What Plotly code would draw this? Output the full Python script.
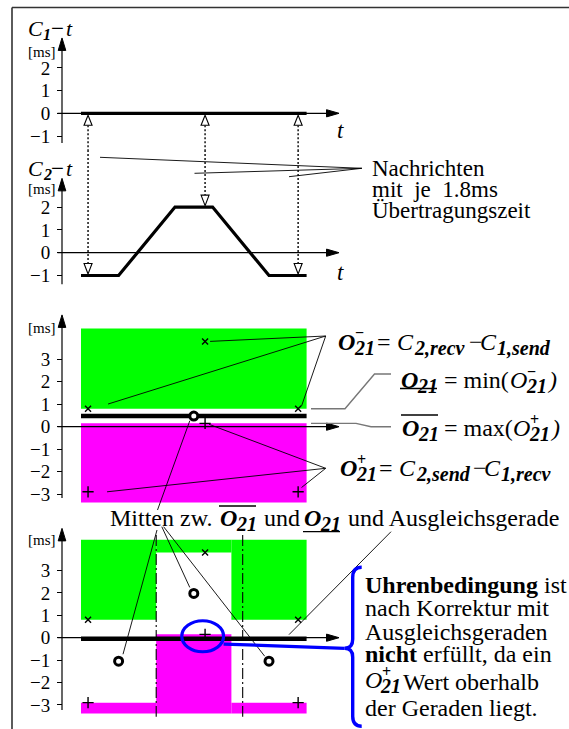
import numpy as np
import plotly.graph_objects as go

# ---------------------------------------------------------------- data ---
# time axis in arbitrary units, clock offsets in ms
T_START, T_END = 0.0, 24.0
C1_T = [T_START, T_END]
C1_V = [0.0, 0.0]
C2_T = [0, 4, 10, 14, 20, 24]
C2_V = [-1, -1, 2, 2, -1, -1]
MSG_T = [0.75, 13.2, 23.1]          # message instants
C2_AT_MSG = [-1, 2, -1]             # C2 where each message arrives
O_MINUS = [0.8, 3.8, 0.8]           # O21- = C2,recv - C1,send
O_PLUS = [-2.9, 0.15, -2.9]         # O21+ = C2,send - C1,recv
FILL_TOP, FILL_BOTTOM = 4.37, -3.38
SEG_EDGES = [0, 8, 16, 24]
DIVIDERS = [8.0, 17.2]
TICKS_C = [-1, 0, 1, 2]
TICKS_O = [-3, -2, -1, 0, 1, 2, 3]

# ------------------------------------------------------------ geometry ---
W, H = 569, 729
PX0, PXS = 81.0, 9.4                # pixel of t=0, pixels per time unit
SERIF = "'Liberation Serif', 'DejaVu Serif', serif"

PANELS = {
    "y":  dict(band=(8, 150),   zero=113.3, scale=22.7),
    "y2": dict(band=(150, 300), zero=252.7, scale=22.8),
    "y3": dict(band=(300, 514), zero=426.7, scale=22.45),
    "y4": dict(band=(514, 729), zero=637.7, scale=22.4),
}
AXIS_EXT = {"y": (-1.31, 3.32), "y2": (-1.38, 3.26),
            "y3": (-3.18, 4.98), "y4": (-3.23, 4.88)}
Y_AXIS_T = (62 - PX0) / PXS
X_AXIS_T = (-2.5, 27.45)


def tx(px):
    return (px - PX0) / PXS


def vy(yref, py):
    p = PANELS[yref]
    return (p["zero"] - py) / p["scale"]


def to_px(yref, t, v):
    p = PANELS[yref]
    return PX0 + PXS * t, p["zero"] - v * p["scale"]


def near(yref, t, v, dx, dy):
    px, py = to_px(yref, t, v)
    return tx(px + dx), vy(yref, py + dy)


shapes, annotations, traces = [], [], []
SUBB = "<b><i>{}</i></b>"


def seg(yref, pts, color="black", width=1.0, dash="solid", layer="above"):
    d = "M" + " L".join(f"{a:.4f},{b:.4f}" for a, b in pts)
    shapes.append(dict(type="path", xref="x", yref=yref, path=d,
                       line=dict(color=color, width=width, dash=dash), layer=layer))


def glyph(yref, t, v, path, fill="black", color="black", width=1.0):
    shapes.append(dict(type="path", xref="x", yref=yref, xsizemode="pixel",
                       ysizemode="pixel", xanchor=t, yanchor=v, path=path,
                       fillcolor=fill, line=dict(color=color, width=width),
                       layer="above"))


def rect(yref, t0, t1, v0, v1, color):
    shapes.append(dict(type="rect", xref="x", yref=yref, x0=t0, x1=t1, y0=v0,
                       y1=v1, fillcolor=color, line=dict(width=0), layer="below"))


def text(s, px, py, size=23, xanchor="left"):
    annotations.append(dict(text=s, x=px / W, y=1 - py / H, xref="paper",
                            yref="paper", xanchor=xanchor, yanchor="middle",
                            showarrow=False, borderpad=0,
                            font=dict(family=SERIF, size=size, color="black")))


def paper_line(x0, y0, x1, y1, width=1.3, color="black"):
    shapes.append(dict(type="line", xref="paper", yref="paper", x0=x0 / W,
                       x1=x1 / W, y0=1 - y0 / H, y1=1 - y1 / H,
                       line=dict(color=color, width=width)))


def sym(base, px, py, sup=None, sub=None, size=24, bold=True):
    """Symbol with stacked superscript and subscript, e.g. O21+."""
    text(SUBB.format(base) if bold else f"<i>{base}</i>", px, py, size)
    if sup:
        text(f"<b>{sup}</b>", px + 17, py - 9, 16)
    if sub:
        text(SUBB.format(sub), px + 15.5, py + 6, 20)


def axes(yref):
    lo, hi = AXIS_EXT[yref]
    seg(yref, [(Y_AXIS_T, lo), (Y_AXIS_T, hi - 0.3)], width=1.2)
    glyph(yref, Y_AXIS_T, hi, "M0,0 L-3.8,-12.5 L3.8,-12.5 Z")
    seg(yref, [(X_AXIS_T[0], 0), (X_AXIS_T[1] - 0.6, 0)], width=1.2)
    glyph(yref, X_AXIS_T[1], 0, "M0,0 L-12.5,3.6 L-12.5,-3.6 Z")


def line_trace(yref, x, y, width):
    traces.append(go.Scatter(x=x, y=y, mode="lines", yaxis=yref, xaxis="x",
                             line=dict(color="black", width=width),
                             hoverinfo="skip"))


def markers(yref, x, y, symbol, size, lw, fill="black"):
    traces.append(go.Scatter(x=x, y=y, mode="markers", yaxis=yref, xaxis="x",
                             cliponaxis=False,
                             marker=dict(symbol=symbol, size=size, color=fill,
                                         line=dict(color="black", width=lw)),
                             hoverinfo="skip"))


# ------------------------------------------------- panel 1 and 2: clocks ---
for yref in ("y", "y2", "y3", "y4"):
    axes(yref)

line_trace("y", C1_T, C1_V, 3.2)
line_trace("y2", C2_T, C2_V, 3.2)

lo1 = PANELS["y"]
p1_bottom = (lo1["zero"] - lo1["band"][1]) / lo1["scale"]
p2 = PANELS["y2"]
p2_top = (p2["zero"] - p2["band"][0]) / p2["scale"]
for t, c1v, c2v in zip(MSG_T, [C1_V[0]] * len(MSG_T), C2_AT_MSG):
    # open arrow tail under C1, open arrow head on C2, dotted in between
    glyph("y", t, c1v, "M0,-2 L-4,-12 L4,-12 Z", fill="white", width=1.1)
    glyph("y2", t, c2v, "M0,1.5 L-4,12 L4,12 Z", fill="white", width=1.1)
    seg("y", [(t, c1v - 12 / lo1["scale"]), (t, p1_bottom)],
        color="#222", width=1.6, dash="2px,2px")
    seg("y2", [(t, p2_top), (t, c2v + 12 / p2["scale"])],
        color="#222", width=1.6, dash="2px,2px")

# callout for the messages
hub = (tx(361.8), vy("y2", 168.3))
for px, py in [(100, 157.3), (194.5, 173.3), (289, 176.7)]:
    seg("y2", [(tx(px), vy("y2", py)), hub], width=0.9)

# ------------------------------------------- panel 3: one offset bound ---
o_low = min(O_MINUS)
o_high = max(O_PLUS)
mid3 = (o_low + o_high) / 2
rect("y3", T_START, T_END, o_low, FILL_TOP, "#00ff00")
rect("y3", T_START, T_END, FILL_BOTTOM, o_high, "#ff00ff")
line_trace("y3", [T_START, T_END], [mid3, mid3], 4.5)

# ------------------------------------- panel 4: piecewise offset bounds ---
seg_mid = [(a + b) / 2 for a, b in zip(SEG_EDGES[:-1], SEG_EDGES[1:])]
seg_center = [(a + b) / 2 for a, b in zip(O_MINUS, O_PLUS)]
for i in range(len(SEG_EDGES) - 1):
    rect("y4", SEG_EDGES[i], SEG_EDGES[i + 1], O_MINUS[i], FILL_TOP, "#00ff00")
    rect("y4", SEG_EDGES[i], SEG_EDGES[i + 1], FILL_BOTTOM, O_PLUS[i], "#ff00ff")
slope, icpt = np.polyfit(seg_mid, seg_center, 1)
fit_t = [T_START, T_END]
fit_v = [icpt + slope * t for t in fit_t]
line_trace("y4", fit_t, fit_v, 4.5)
for t in DIVIDERS:
    seg("y4", [(t, vy("y4", 535)), (t, vy("y4", 716.7))], width=1.1,
        dash="11px,3px,2px,3px")

# markers
for yref, cx, cy in (("y3", [seg_mid[1]], [mid3]), ("y4", seg_mid, seg_center)):
    markers(yref, MSG_T, O_MINUS, "x-thin", 6, 1.4)
    markers(yref, MSG_T, O_PLUS, "cross-thin", 8, 1.4)
    markers(yref, cx, cy, "circle", 8, 3, fill="white")

# callouts in panel 3
hubA = (tx(325.7), vy("y3", 336))
for i, (dx, dy) in enumerate([(20, -4.7), (5, 0), (3.4, -2.7)]):
    seg("y3", [near("y3", MSG_T[i], O_MINUS[i], dx, dy), hubA], width=0.9)
hubB = (tx(325.7), vy("y3", 468.3))
for i, (dx, dy) in enumerate([(19, 0), (4, 1), (3.4, -4.3)]):
    seg("y3", [near("y3", MSG_T[i], O_PLUS[i], dx, dy), hubB], width=0.9)
seg("y3", [(tx(311), o_low), (tx(345), o_low), (tx(374.5), vy("y3", 374)),
           (tx(391), vy("y3", 374))], color="#777", width=1.4)
seg("y3", [(tx(311), o_high), (tx(356), o_high), (tx(371), vy("y3", 426.7)),
           (tx(391), vy("y3", 426.7))], color="#777", width=1.4)
seg("y3", [near("y3", seg_mid[1], mid3, -4, 4.7), (tx(157.5), vy("y3", 510))],
    width=0.9)

# callouts in panel 4
for (sx, sy), i, (dx, dy) in zip([(157, 530), (161.8, 526.7), (163.6, 526.7)],
                                 range(3), [(4.4, -7), (-4, -6), (-4.3, -5)]):
    seg("y4", [(tx(sx), vy("y4", sy)), near("y4", seg_mid[i], seg_center[i], dx, dy)],
        width=0.9)
seg("y4", [(tx(391), vy("y4", 531.7)), near("y4", tx(289), fit_v[0], 0, -4)],
    width=0.9)

# highlighted violation: ellipse, connector and brace
shapes.append(dict(type="circle", xref="x", yref="y4", xsizemode="pixel",
                   ysizemode="pixel", xanchor=MSG_T[1], yanchor=O_PLUS[1],
                   x0=-23.3, x1=18.5, y0=-17.4, y1=13.6,
                   line=dict(color="#0000ff", width=3.2), layer="above"))
brace_tip = (tx(344.7), vy("y4", 648.3))
seg("y4", [near("y4", MSG_T[1], O_PLUS[1], 18.5, 9.7), brace_tip],
    color="#0000ff", width=3.2)
glyph("y4", brace_tip[0], brace_tip[1],
      "M17,81 Q8,81 8,71 L8,9 Q8,0 0,0 Q8,0 8,-9 L8,-68 Q8,-78 17,-78",
      fill="rgba(0,0,0,0)", color="#0000ff", width=3.4)

# ---------------------------------------------------------------- texts ---
for py, sub in ((28.3, "1"), (168.3, "2")):
    text("<i>C</i>", 27, py, 22)
    text(SUBB.format(sub), 41.5, py + 6, 16)
    text("−", 49.5, py, 23)
    text("<i>t</i>", 64.5, py, 22)
for py in (51.7, 189.3, 328, 540):
    text("[ms]", 26.5, py, 15)
text("<i>t</i>", 336, 130, 23)
text("<i>t</i>", 336, 272, 23)

text("Nachrichten", 371, 168.3, 23)
text("mit\u00a0 je\u00a0 1.8ms", 371, 189.3, 23)
text("Übertragungszeit", 371, 210.7, 23)

# O21- = C2,recv - C1,send
y0 = 341.7
sym("O", 337, y0, sup="−", sub="21")
text("=", 375.5, y0, 24)
text("<i>C</i>", 396, y0, 24)
text(SUBB.format("2,recv"), 412.5, y0 + 6, 20)
text("−", 468, y0, 24)
text("<i>C</i>", 479, y0, 24)
text(SUBB.format("1,send"), 495.5, y0 + 6, 20)

# O21 (lower) = min(O21-)
y0 = 380
sym("O", 400, y0, sub="21")
paper_line(400, 388.5, 437, 388.5)
text("= min(", 443, y0, 24)
sym("O", 509, y0, sup="−", sub="21", bold=False)
text("<i>)</i>", 546, y0, 24)

# O21 (upper) = max(O21+)
y0 = 428.3
sym("O", 401, y0, sub="21")
paper_line(401, 415, 438, 415)
text("= max(", 443, y0, 24)
sym("O", 512, y0, sup="+", sub="21", bold=False)
text("<i>)</i>", 549, y0, 24)

# O21+ = C2,send - C1,recv
y0 = 468.3
sym("O", 339, y0, sup="+", sub="21")
text("=", 377.5, y0, 24)
text("<i>C</i>", 398, y0, 24)
text(SUBB.format("2,send"), 414.5, y0 + 6, 20)
text("−", 472, y0, 24)
text("<i>C</i>", 483, y0, 24)
text(SUBB.format("1,recv"), 499.5, y0 + 6, 20)

# midpoint caption
y0 = 518.3
text("Mitten zw.", 109, y0, 24)
sym("O", 219, y0, sub="21")
paper_line(219, 506, 256, 506)
text("und", 263, y0, 24)
sym("O", 303, y0, sub="21")
paper_line(303, 531.7, 340, 531.7)
text("und Ausgleichsgerade", 347, y0, 24)

# conclusion
text("<b>Uhrenbedingung</b> ist", 363.6, 585, 24)
text("nach Korrektur mit", 363.6, 608.3, 24)
text("Ausgleichsgeraden", 363.6, 631.7, 24)
text("<b>nicht</b> erfüllt, da ein", 363.6, 654, 24)
sym("O", 363.6, 680, sup="+", sub="21", bold=False)
text("Wert oberhalb", 402, 681.7, 24)
text("der Geraden liegt.", 363.6, 708.3, 24)

# frame
paper_line(12, 7.5, 569, 7.5, width=1.6, color="#333")
paper_line(12, 7.5, 12, 729, width=1.6, color="#333")

# --------------------------------------------------------------- layout ---
fig = go.Figure(traces)
layout = dict(
    width=W, height=H, autosize=False, showlegend=False,
    margin=dict(l=0, r=0, t=0, b=0),
    paper_bgcolor="white", plot_bgcolor="rgba(0,0,0,0)",
    xaxis=dict(domain=[0, 1], range=[tx(0), tx(W)], visible=False,
               anchor="y", fixedrange=True),
    shapes=shapes, annotations=annotations,
)
for yref, p in PANELS.items():
    name = "yaxis" if yref == "y" else "yaxis" + yref[1:]
    top_px, bot_px = p["band"]
    layout[name] = dict(
        domain=[1 - bot_px / H, 1 - top_px / H],
        range=[(p["zero"] - bot_px) / p["scale"], (p["zero"] - top_px) / p["scale"]],
        anchor="free", position=62 / W, showgrid=False, zeroline=False,
        showline=False, ticks="outside", ticklen=5, tickwidth=1.2,
        tickcolor="black", ticklabelstandoff=3,
        tickvals=TICKS_C if yref in ("y", "y2") else TICKS_O,
        tickfont=dict(family=SERIF, size=19, color="black"), fixedrange=True,
    )
fig.update_layout(**layout)
fig.write_html("out.html")
